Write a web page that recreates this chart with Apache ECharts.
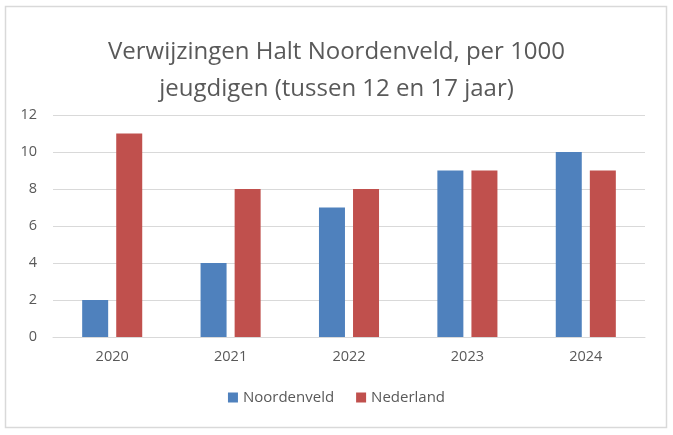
<!DOCTYPE html>
<html>
<head>
<meta charset="utf-8">
<script src="https://cdn.jsdelivr.net/npm/echarts@6/dist/echarts.min.js"></script>
<style>
html,body{margin:0;padding:0;background:#fff;}
#main{width:673px;height:435px;}
</style>
</head>
<body>
<div id="main"></div>
<script>
const titleText = 'Verwijzingen Halt Noordenveld, per 1000\njeugdigen (tussen 12 en 17 jaar)';
const categories = ['2020', '2021', '2022', '2023', '2024'];
const noordenveld = [2, 4, 7, 9, 10];
const nederland = [11, 8, 8, 9, 9];
const seriesNames = ['Noordenveld', 'Nederland'];

const FONT = 'Open Sans';
const chart = echarts.init(document.getElementById('main'));
chart.setOption({
  animation: false,
  backgroundColor: '#fff',
  graphic: [{
    type: 'rect',
    shape: { x: 5.5, y: 6.5, width: 661, height: 421 },
    style: { fill: 'none', stroke: '#d9d9d9', lineWidth: 1.5 },
    z: 100
  }],
  title: {
    text: titleText,
    left: 'center',
    top: 29,
    textStyle: { fontFamily: FONT, fontWeight: 'normal', fontSize: 24, color: '#595959', lineHeight: 37 }
  },
  legend: {
    bottom: 25,
    left: 'center',
    itemWidth: 10,
    itemHeight: 10,
    itemGap: 22,
    icon: 'rect',
    textStyle: { fontFamily: FONT, fontSize: 15, color: '#595959' },
    data: seriesNames
  },
  grid: { left: 53, right: 28, top: 115, bottom: 98 },
  xAxis: {
    type: 'category',
    data: categories,
    axisTick: { show: false },
    axisLine: { lineStyle: { color: '#d9d9d9', width: 1 } },
    axisLabel: { fontFamily: FONT, fontSize: 14.5, color: '#595959', margin: 12 }
  },
  yAxis: {
    type: 'value',
    min: 0, max: 12, interval: 2,
    axisLine: { show: false },
    axisTick: { show: false },
    splitLine: { lineStyle: { color: '#d9d9d9', width: 1 } },
    axisLabel: { fontFamily: FONT, fontSize: 14.5, color: '#595959', margin: 16 }
  },
  series: [
    { name: seriesNames[0], type: 'bar', data: noordenveld, barWidth: 26, barGap: '31%', itemStyle: { color: '#4f81bd' } },
    { name: seriesNames[1], type: 'bar', data: nederland, barWidth: 26, barGap: '31%', itemStyle: { color: '#c0504d' } }
  ]
});
</script>
</body>
</html>
